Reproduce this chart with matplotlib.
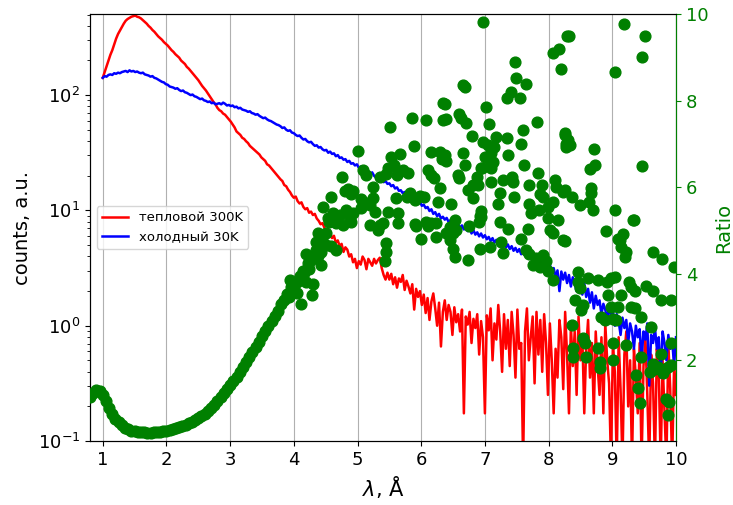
import matplotlib
matplotlib.use('Agg')
import matplotlib.pyplot as plt
import numpy as np

# wavelength sampling of the two spectra (A)
lam_start, lam_stop = 1.0, 10.0

# log10(counts), thermal 300K beam
hot_log = [
    2.15, 2.20, 2.25, 2.30, 2.35, 2.39, 2.44, 2.49, 2.53, 2.56,
    2.59, 2.62, 2.645, 2.66, 2.67, 2.68, 2.685, 2.69, 2.68, 2.675,
    2.665, 2.65, 2.635, 2.62, 2.60, 2.585, 2.565, 2.55, 2.53, 2.51,
    2.495, 2.48, 2.46, 2.445, 2.43, 2.41, 2.39, 2.375, 2.355, 2.34,
    2.325, 2.30, 2.285, 2.27, 2.245, 2.23, 2.21, 2.19, 2.17, 2.15,
    2.13, 2.105, 2.08, 2.06, 2.04, 2.015, 1.99, 1.965, 1.94, 1.92,
    1.89, 1.87, 1.86, 1.84, 1.83, 1.81, 1.79, 1.77, 1.745, 1.72,
    1.685, 1.67, 1.655, 1.63, 1.62, 1.60, 1.585, 1.56, 1.545, 1.53,
    1.515, 1.50, 1.485, 1.46, 1.445, 1.43, 1.40, 1.39, 1.37, 1.35,
    1.33, 1.31, 1.29, 1.27, 1.255, 1.22, 1.21, 1.18, 1.16, 1.13,
    1.11, 1.12, 1.08, 1.06, 1.07, 1.03, 1.01, 1.02, 0.98, 0.99,
    0.96, 0.97, 0.93, 0.91, 0.88, 0.89, 0.85, 0.83, 0.78, 0.80,
    0.76, 0.78, 0.72, 0.74, 0.69, 0.71, 0.64, 0.68, 0.66, 0.60,
    0.62, 0.55, 0.58, 0.50, 0.56, 0.53, 0.60, 0.57, 0.49, 0.58,
    0.55, 0.52, 0.58, 0.54, 0.57, 0.59, 0.50, 0.44, 0.40, 0.46,
    0.40, 0.45, 0.36, 0.42, 0.33, 0.41, 0.38, 0.44, 0.31, 0.39,
    0.34, 0.28, 0.36, 0.14, 0.32, 0.25, 0.30, 0.18, 0.27, 0.11,
    0.24, 0.05, 0.21, 0.28, 0.15, 0.00, 0.20, -0.18, 0.12, 0.22,
    0.05, 0.18, 0.12, -0.08, 0.16, 0.03, 0.10, -0.05, 0.14, -0.76,
    0.08, 0.01, 0.12, -0.15, 0.06, -0.02, 0.10, -0.25, 0.04, -0.10,
    -0.76, 0.09, -0.04, 0.15, -0.30, 0.02, -0.12, 0.18, -0.05, -0.40,
    0.10, -0.20, 0.05, -0.35, 0.12, -0.08, -0.45, 0.14, -0.20, -0.15,
    -1.20, -0.05, 0.15, -0.30, -0.10, 0.08, -0.50, 0.12, -0.25, 0.05,
    -0.40, 0.10, -0.15, -0.60, 0.02, -0.30, -0.76, -0.20, -0.45, 0.05,
    -0.10, -0.55, 0.12, -0.25, -0.76, 0.00, -0.35, -0.05, -0.60, 0.08,
    -0.30, -0.10, -0.76, -0.20, 0.05, -0.45, -0.15, -0.76, -0.05, -0.35,
    -0.60, -0.10, -0.76, 0.02, -0.30, -0.50, -1.20, -0.15, -0.40, -1.20,
    -0.10, -0.55, -1.20, -0.25, -0.05, -0.70, -0.30, -1.20, -0.20, -0.45,
    -0.76, -0.15, -1.20, -0.35, -0.10, -0.60, -1.20, -0.25, -0.50, -1.20,
    -0.20, -0.40, -1.20, -0.30, -0.76, -1.20, -0.15, -0.55, -1.20, -0.35, -0.60,
]

# log10(counts), cold 30K beam
cold_log = [
    2.15, 2.165, 2.16, 2.175, 2.18, 2.175, 2.19, 2.185, 2.195, 2.19,
    2.20, 2.205, 2.21, 2.20, 2.215, 2.205, 2.21, 2.20, 2.205, 2.195,
    2.19, 2.195, 2.18, 2.175, 2.17, 2.16, 2.165, 2.15, 2.145, 2.135,
    2.125, 2.115, 2.11, 2.095, 2.09, 2.075, 2.07, 2.065, 2.055, 2.06,
    2.045, 2.035, 2.04, 2.025, 2.02, 2.01, 2.0, 2.005, 1.99, 1.985,
    1.975, 1.965, 1.97, 1.955, 1.95, 1.94, 1.945, 1.93, 1.935, 1.92,
    1.925, 1.93, 1.92, 1.935, 1.925, 1.91, 1.915, 1.905, 1.91, 1.895,
    1.90, 1.885, 1.89, 1.875, 1.87, 1.865, 1.855, 1.86, 1.845, 1.84,
    1.83, 1.835, 1.82, 1.81, 1.80, 1.805, 1.79, 1.78, 1.775, 1.765,
    1.755, 1.745, 1.74, 1.73, 1.715, 1.72, 1.70, 1.69, 1.695, 1.675,
    1.67, 1.655, 1.645, 1.65, 1.63, 1.615, 1.62, 1.60, 1.59, 1.595,
    1.575, 1.56, 1.565, 1.545, 1.55, 1.53, 1.52, 1.525, 1.50, 1.51,
    1.49, 1.495, 1.47, 1.48, 1.455, 1.46, 1.44, 1.445, 1.42, 1.43,
    1.405, 1.41, 1.39, 1.40, 1.37, 1.38, 1.355, 1.36, 1.335, 1.34,
    1.315, 1.33, 1.30, 1.285, 1.295, 1.265, 1.27, 1.245, 1.255, 1.23,
    1.235, 1.21, 1.22, 1.19, 1.20, 1.17, 1.175, 1.15, 1.16, 1.13,
    1.135, 1.11, 1.12, 1.085, 1.10, 1.06, 1.075, 1.04, 1.05, 1.02,
    1.03, 0.995, 1.01, 0.97, 0.985, 0.95, 0.97, 0.93, 0.945, 0.92,
    0.935, 0.90, 0.915, 0.88, 0.90, 0.865, 0.88, 0.85, 0.87, 0.835,
    0.85, 0.82, 0.845, 0.80, 0.83, 0.79, 0.81, 0.775, 0.80, 0.765,
    0.785, 0.75, 0.77, 0.735, 0.76, 0.72, 0.745, 0.71, 0.73, 0.695,
    0.72, 0.68, 0.705, 0.665, 0.69, 0.65, 0.675, 0.64, 0.665, 0.62,
    0.65, 0.605, 0.63, 0.59, 0.615, 0.57, 0.60, 0.55, 0.58, 0.535,
    0.565, 0.52, 0.55, 0.49, 0.53, 0.47, 0.50, 0.42, 0.48, 0.30,
    0.47, 0.40, 0.46, 0.37, 0.44, 0.34, 0.42, 0.36, 0.30, 0.40,
    0.33, 0.27, 0.37, 0.25, 0.32, 0.20, 0.29, 0.15, 0.26, 0.18,
    0.22, 0.10, 0.19, 0.14, 0.05, 0.17, 0.08, 0.12, 0.00, 0.10,
    0.04, -0.08, 0.07, -0.02, 0.05, -0.15, 0.02, -0.05, -0.20, 0.00,
    -0.10, -0.03, -0.30, -0.05, -0.12, 0.02, -0.52, -0.08, -0.15, -0.02,
    -0.20, -0.10, -0.45, -0.05, -0.15, -0.30, -0.08, -0.20, -0.12, -0.35, -0.10,
]

# ratio cold/hot, smooth part sampled from 0.80 to 4.50 A
ratio_smooth_start, ratio_smooth_stop = 0.80, 4.50
ratio_smooth = [
    1.14, 1.25, 1.30, 1.28, 1.20, 1.06, 0.90, 0.76, 0.65, 0.56,
    0.49, 0.44, 0.40, 0.37, 0.35, 0.34, 0.33, 0.33, 0.32, 0.32,
    0.33, 0.33, 0.34, 0.35, 0.37, 0.38, 0.40, 0.42, 0.45, 0.48,
    0.51, 0.54, 0.58, 0.62, 0.66, 0.71, 0.76, 0.82, 0.89, 0.97,
    1.06, 1.14, 1.24, 1.33, 1.42, 1.52, 1.62, 1.72, 1.84, 1.95,
    2.07, 2.18, 2.31, 2.42, 2.55, 2.67, 2.79, 2.90, 3.02, 3.13,
    3.30, 3.40, 3.52, 3.68, 3.72, 3.80, 3.95, 4.05, 4.10, 4.30,
    4.40, 4.55, 4.70, 4.80, 4.95,
]

# ratio, scattered points (wavelength, ratio)
ratio_scatter = [
    (3.94, 3.85), (3.92, 3.46), (4.05, 3.55), (4.12, 3.30), (4.28, 3.50),
    (6.34, 7.94), (5.85, 7.59), (6.07, 7.55), (5.51, 7.39), (6.34, 7.55),
    (5.01, 6.84), (5.88, 6.96), (6.16, 6.80), (5.52, 6.69), (5.67, 6.76), (6.32, 6.65),
    (5.48, 6.45), (5.58, 6.50), (5.65, 6.35), (5.45, 6.30), (5.62, 6.28), (5.72, 6.40), (5.80, 6.33),
    (5.14, 6.28), (5.08, 6.39), (5.35, 6.23), (6.10, 6.40), (6.16, 6.28), (6.20, 6.20), (4.76, 6.24),
    (4.85, 5.95), (4.93, 5.90), (4.80, 5.90), (4.90, 5.85), (5.24, 6.00),
    (5.82, 5.86), (5.98, 5.80), (6.05, 5.78), (5.78, 5.78), (5.91, 5.70),
    (4.59, 5.78), (5.61, 5.74), (6.26, 5.66),
    (5.05, 5.72), (5.15, 5.64), (5.24, 5.75), (5.19, 5.58), (5.06, 5.52),
    (4.46, 5.55), (4.62, 5.40), (4.54, 5.28), (4.72, 5.36), (4.82, 5.48), (4.93, 5.40), (4.88, 5.28),
    (5.27, 5.43), (5.48, 5.43), (5.64, 5.39), (5.64, 5.16), (5.19, 5.12), (5.35, 5.12), (5.40, 5.16), (5.32, 5.00),
    (4.56, 5.20), (4.67, 5.16), (4.77, 5.12), (4.90, 5.20), (5.92, 5.10), (5.90, 5.14),
    (6.08, 5.20), (6.16, 5.16), (6.24, 5.16), (6.10, 5.10), (6.00, 4.81), (6.24, 4.85),
    (4.38, 4.95), (4.43, 4.80), (4.35, 4.72), (4.51, 4.66), (4.59, 4.63), (4.67, 4.55),
    (4.43, 4.50), (4.38, 4.40), (4.33, 4.36),
    (5.45, 4.70), (5.44, 4.50), (5.43, 4.30),
    (4.19, 4.45), (4.22, 4.25), (4.24, 4.10), (4.16, 4.02), (4.30, 3.76), (4.19, 3.80), (4.43, 4.20),
    (6.97, 9.82), (6.66, 8.36), (6.68, 8.32), (7.48, 8.90), (7.49, 8.51), (7.64, 8.38),
    (7.34, 8.05), (7.41, 8.20), (7.55, 8.05),
    (8.07, 9.09), (8.17, 9.20), (8.29, 9.49), (8.20, 8.74),
    (6.38, 7.92), (6.39, 7.57), (6.60, 7.70), (6.63, 7.60), (6.70, 7.47), (7.02, 7.86), (7.07, 7.46), (7.82, 7.51),
    (6.79, 7.18), (7.18, 7.16), (7.34, 7.14), (7.60, 7.32), (7.56, 7.00), (8.25, 7.24), (8.28, 7.00),
    (6.29, 6.80), (6.34, 6.72), (6.39, 6.60), (6.37, 6.75), (6.66, 6.79),
    (6.97, 7.05), (7.05, 6.97), (7.15, 6.93), (7.10, 6.78), (7.00, 6.70), (7.08, 6.62),
    (7.13, 6.58), (7.10, 6.43), (6.95, 6.43), (7.37, 6.74),
    (6.68, 6.51), (6.58, 6.28), (6.60, 6.20), (6.94, 6.43), (7.61, 6.51), (7.83, 6.32),
    (6.29, 5.97), (6.87, 6.24), (6.81, 6.05), (6.74, 5.93), (6.89, 6.05),
    (7.10, 6.12), (7.28, 6.16), (7.42, 6.24), (7.44, 6.12),
    (7.70, 6.05), (7.89, 6.05), (7.86, 5.85), (7.91, 5.78), (8.10, 6.16), (8.12, 6.00), (8.23, 5.89),
    (7.23, 5.87), (7.45, 5.78), (6.81, 5.74), (6.47, 5.62), (7.20, 5.62), (6.94, 5.45), (6.92, 5.33),
    (7.70, 5.60), (7.73, 5.39), (7.85, 5.47), (7.99, 5.54), (8.07, 5.66), (7.99, 5.28), (8.15, 5.25),
    (7.23, 5.20), (7.36, 5.04), (7.68, 5.04), (8.02, 5.00), (8.07, 4.93),
    (6.45, 5.08), (6.53, 5.24), (6.47, 5.00), (6.39, 4.93),
    (6.50, 4.93), (6.45, 4.78), (6.55, 5.00), (6.75, 5.10), (6.90, 5.20), (6.94, 5.30),
    (8.23, 4.77),
    (6.50, 4.58), (6.53, 4.39), (6.73, 4.31), (6.92, 4.58), (7.08, 4.62), (7.26, 4.74), (7.29, 4.47), (7.57, 4.79),
    (7.65, 4.54), (7.70, 4.46), (7.80, 4.35), (7.91, 4.42), (7.96, 4.30), (7.75, 4.20),
    (7.86, 4.16), (7.99, 4.05), (8.07, 3.85),
    (8.32, 9.50), (9.18, 9.76), (9.52, 9.50), (9.47, 9.01), (9.04, 8.67),
    (8.25, 7.20), (8.30, 7.09), (8.33, 6.97), (8.28, 6.93), (8.72, 6.89), (9.47, 6.49), (8.65, 6.41), (8.73, 6.51),
    (8.67, 5.99), (8.66, 5.87), (8.63, 5.66), (8.70, 5.48), (8.36, 5.78), (8.49, 5.58), (8.25, 5.93),
    (9.05, 5.48), (9.34, 5.25), (8.90, 4.99), (9.17, 4.91), (9.09, 4.81),
    (9.12, 4.77), (9.14, 4.62), (9.22, 4.50), (9.20, 4.39), (9.33, 5.24),
    (9.64, 4.50), (9.78, 4.33), (9.97, 4.16), (8.25, 4.76),
    (8.46, 4.04), (8.46, 3.81), (8.49, 3.66), (8.62, 3.89), (8.78, 3.85), (8.91, 3.81), (8.98, 3.89), (9.04, 3.93),
    (9.27, 3.81), (9.30, 3.70), (9.35, 3.60), (9.53, 3.71), (9.64, 3.60),
    (9.77, 3.39), (9.92, 3.39),
    (8.41, 3.39), (8.51, 3.16), (8.54, 3.27),
    (8.93, 3.50), (9.14, 3.50), (8.98, 3.23), (9.09, 3.22), (9.30, 3.22), (9.35, 3.20),
    (8.83, 3.00), (8.88, 2.92), (9.01, 2.96), (9.06, 2.92), (9.45, 3.00),
    (8.37, 2.81), (9.61, 2.77),
    (8.54, 2.50), (8.57, 2.39), (9.01, 2.39), (9.22, 2.35), (9.92, 2.39),
    (8.38, 2.27), (8.38, 2.08), (8.78, 2.27), (8.80, 1.96), (8.80, 1.81), (8.59, 2.08),
    (9.01, 2.00), (9.45, 2.08), (9.77, 2.15),
    (9.64, 1.90), (9.71, 1.85), (9.82, 1.80), (9.87, 1.85), (9.92, 1.88), (9.79, 1.70), (9.59, 1.72), (9.67, 1.80),
    (9.38, 1.65), (9.40, 1.35), (9.43, 1.00),
    (9.85, 1.11), (9.89, 1.04), (9.88, 0.73),
]

labels = ['тепловой 300K', 'холодный 30K']


def main():
    lam_hot = np.linspace(lam_start, lam_stop, len(hot_log))
    lam_cold = np.linspace(lam_start, lam_stop, len(cold_log))
    hot = 10 ** np.array(hot_log)
    cold = 10 ** np.array(cold_log)

    lam_r = np.linspace(ratio_smooth_start, ratio_smooth_stop, len(ratio_smooth))
    scat_x = [p[0] for p in ratio_scatter]
    scat_y = [p[1] for p in ratio_scatter]

    fig = plt.figure(figsize=(7.33, 5.05), dpi=100)
    ax = fig.add_axes([0.1228, 0.1267, 0.7994, 0.8455])

    ax.plot(lam_hot, hot, color='red', lw=1.8, label=labels[0])
    ax.plot(lam_cold, cold, color='blue', lw=1.8, label=labels[1])
    ax.set_yscale('log')
    ax.set_ylim(0.1, 505)
    ax.set_xlim(0.8, 10)
    ax.set_xticks(range(1, 11))
    ax.grid(axis='x', color='#b0b0b0', lw=0.8)
    ax.tick_params(labelsize=13)
    ax.set_xlabel(r'$\lambda$, Å', fontsize=15)
    ax.set_ylabel('counts, a.u.', fontsize=14)
    ax.legend(loc='center left', fontsize=9.5)

    ax2 = ax.twinx()
    ax2.scatter(lam_r, ratio_smooth, s=60, color='green', zorder=3)
    ax2.scatter(scat_x, scat_y, s=60, color='green', zorder=3)
    ax2.set_ylim(0.13, 10)
    ax2.set_yticks([2, 4, 6, 8, 10])
    ax2.tick_params(axis='y', colors='green', labelsize=13)
    ax2.spines['right'].set_color('green')
    ax2.set_ylabel('Ratio', color='green', fontsize=14)

    fig.savefig('out.png', dpi=100)


if __name__ == '__main__':
    main()
